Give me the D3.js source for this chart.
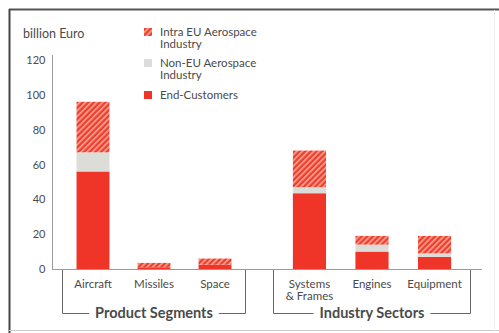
<!DOCTYPE html>
<html>
<head>
<meta charset="utf-8">
<script src="https://cdn.jsdelivr.net/npm/d3@7"></script>
<style>
  html, body { margin: 0; padding: 0; background: #fff; }
  svg { display: block; }
  text { font-family: Lato, "Open Sans", sans-serif; fill: #4a4a4a; }
</style>
</head>
<body>
<svg id="chart" width="499" height="333"></svg>
<script>
// Aerospace turnover by segment, billion Euro
const productCategories = ["Aircraft", "Missiles", "Space"];
const sectorCategories = ["Systems & Frames", "Engines", "Equipment"];
const seriesNames = ["End-Customers", "Non-EU Aerospace Industry", "Intra EU Aerospace Industry"];
const endCustomers = { "Aircraft": 56, "Missiles": 1, "Space": 2.5, "Systems & Frames": 43.5, "Engines": 10, "Equipment": 7 };
const nonEU = { "Aircraft": 11, "Missiles": 0, "Space": 0, "Systems & Frames": 3.5, "Engines": 4, "Equipment": 2 };
const intraEU = { "Aircraft": 29, "Missiles": 2.5, "Space": 3.5, "Systems & Frames": 21, "Engines": 5, "Equipment": 10 };
const yTicks = [0, 20, 40, 60, 80, 100, 120];
const groupTitles = ["Product Segments", "Industry Sectors"];

const RED = "#ef3428";
const GREY = "#dcdcd8";

const svg = d3.select("#chart");

// hatched fill for the intra-EU share
const defs = svg.append("defs");
const pat = defs.append("pattern")
  .attr("id", "hatch")
  .attr("patternUnits", "userSpaceOnUse")
  .attr("width", 4).attr("height", 4)
  .attr("patternTransform", "rotate(45)");
pat.append("rect").attr("width", 4).attr("height", 4).attr("fill", "#ee3e30");
pat.append("rect").attr("x", 0).attr("width", 1.6).attr("height", 4).attr("fill", "#f9a894");

// frame
svg.append("line").attr("x1", 9).attr("x2", 499).attr("y1", 9.5).attr("y2", 9.5)
  .attr("stroke", "#555").attr("stroke-width", 2);
svg.append("line").attr("x1", 9.5).attr("x2", 9.5).attr("y1", 9).attr("y2", 333)
  .attr("stroke", "#444").attr("stroke-width", 2);
svg.append("line").attr("x1", 9).attr("x2", 499).attr("y1", 330.5).attr("y2", 330.5)
  .attr("stroke", "#ccc").attr("stroke-width", 1);
svg.append("line").attr("x1", 494.5).attr("x2", 494.5).attr("y1", 10).attr("y2", 331)
  .attr("stroke", "#eee").attr("stroke-width", 1);

const y = d3.scaleLinear().domain([0, 120]).range([269, 60]);

// y axis
const yAxis = svg.append("g").attr("transform", "translate(52.5,0)")
  .call(d3.axisLeft(y).tickValues(yTicks).tickSize(0).tickPadding(7).tickSizeOuter(0));
yAxis.select(".domain").attr("stroke", "#999").attr("d", "M0,55V269.5");
yAxis.selectAll("text").style("font-family", "Lato, sans-serif").style("font-size", "11px").attr("fill", "#555");

// baseline
svg.append("line").attr("x1", 52).attr("x2", 482).attr("y1", 269.5).attr("y2", 269.5)
  .attr("stroke", "#999");

svg.append("text").attr("x", 23).attr("y", 38).style("font-size", "12.5px").text("billion Euro");

const groups = [
  { cats: productCategories, range: [62.5, 245.5], po: 0.23, pi: 0.46, title: groupTitles[0] },
  { cats: sectorCategories, range: [273.5, 470.5], po: 0.31, pi: 0.47, title: groupTitles[1] }
];

groups.forEach(g => {
  const x = d3.scaleBand().domain(g.cats).range(g.range).paddingInner(g.pi).paddingOuter(g.po);
  const rows = g.cats.map(c => ({ cat: c, ec: endCustomers[c], ne: nonEU[c], ie: intraEU[c] }));
  const stacked = d3.stack().keys(["ec", "ne", "ie"])(rows);
  const fills = { ec: RED, ne: GREY, ie: "url(#hatch)" };
  stacked.forEach(layer => {
    svg.append("g").selectAll("rect").data(layer).join("rect")
      .attr("x", d => x(d.data.cat))
      .attr("width", x.bandwidth())
      .attr("y", d => y(d[1]))
      .attr("height", d => y(d[0]) - y(d[1]))
      .attr("fill", fills[layer.key]);
  });

  // category labels
  g.cats.forEach(c => {
    const t = svg.append("text").attr("text-anchor", "middle").style("font-size", "11.5px");
    const parts = c === "Systems & Frames" ? ["Systems", "& Frames"] : [c];
    parts.forEach((p, i) => t.append("tspan").attr("x", x(c) + x.bandwidth() / 2).attr("y", 288 + i * 11.5).text(p));
  });

  // bracket under group
  const [a, b] = g.range;
  const mid = (a + b) / 2;
  const title = svg.append("text").attr("x", mid).attr("y", 318).attr("text-anchor", "middle")
    .style("font-size", "14.5px").style("font-weight", "bold").attr("fill", "#3a3a3a").text(g.title);
  const w = title.node().getComputedTextLength();
  svg.append("path")
    .attr("d", `M${a},270V313.5H${mid - w / 2 - 6}M${mid + w / 2 + 6},313.5H${b}V270`)
    .attr("fill", "none").attr("stroke", "#666");
});

// legend
const legendItems = [
  { fill: "url(#hatch)", lines: ["Intra EU Aerospace", "Industry"], y: 32 },
  { fill: GREY, lines: ["Non-EU Aerospace", "Industry"], y: 63 },
  { fill: RED, lines: ["End-Customers"], y: 95 }
];
legendItems.forEach(it => {
  svg.append("rect").attr("x", 144).attr("y", it.y - 4).attr("width", 8).attr("height", 8).attr("fill", it.fill);
  const t = svg.append("text").style("font-size", "11.5px");
  it.lines.forEach((l, i) => t.append("tspan").attr("x", 160).attr("y", it.y + 4 + i * 12).text(l));
});
</script>
</body>
</html>
